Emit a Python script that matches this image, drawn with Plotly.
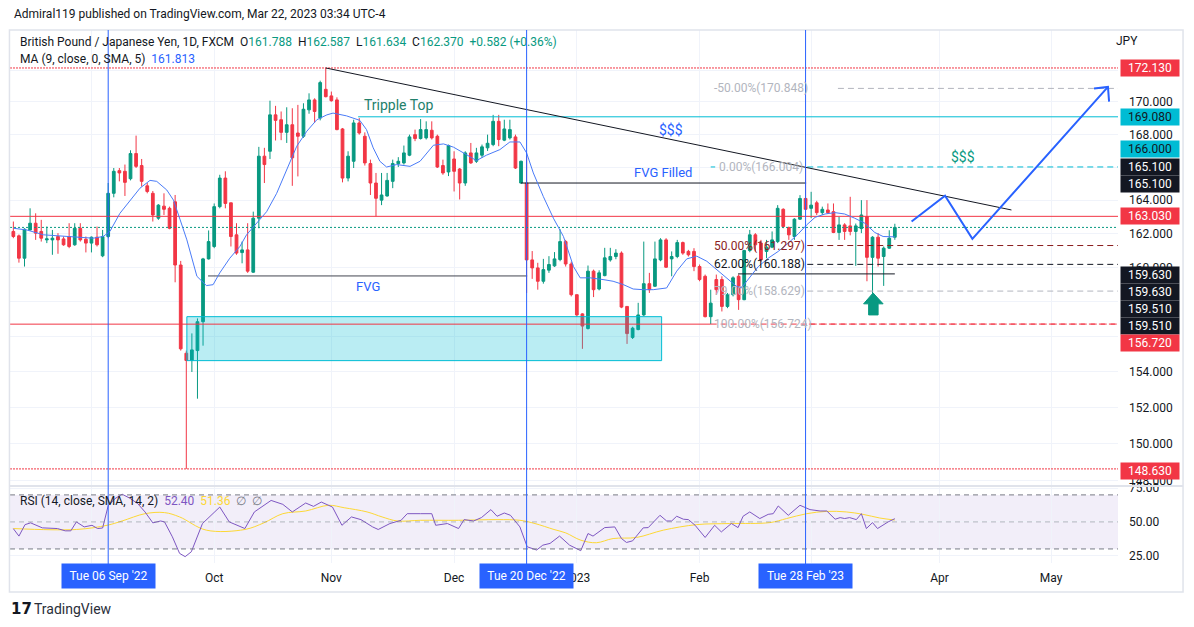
import numpy as np
import pandas as pd
import plotly.graph_objects as go

# GBP/JPY daily bars, 12 Aug 2022 -> 22 Mar 2023
opens = [
    162.13, 161.87, 160.55, 162.22, 162.62, 162.13, 161.63, 161.63, 161.83, 161.69,
    161.83, 161.34, 162.32, 161.67, 161.44, 161.79, 160.69, 161.83, 164.41, 165.78,
    165.74, 165.29, 166.82, 166.09, 164.86, 164.41, 162.92, 163.64, 163.51, 163.90,
    160.15, 155.06, 154.65, 155.21, 156.86, 160.51, 161.24, 163.61, 165.33, 163.84,
    161.93, 160.88, 161.04, 159.73, 162.92, 166.66, 166.96, 169.20, 168.90, 168.12,
    168.59, 168.08, 167.88, 169.51, 170.13, 169.00, 170.79, 170.38, 170.13, 168.33,
    165.33, 166.35, 168.70, 167.88, 166.21, 165.03, 164.00, 164.25, 165.13, 166.20,
    166.25, 166.72, 167.98, 167.74, 167.78, 168.25, 167.88, 166.09, 165.70, 166.49,
    165.88, 165.03, 166.86, 166.35, 166.72, 167.17, 167.37, 168.80, 167.64, 167.78,
    167.84, 165.03, 165.03, 160.45, 159.98, 159.20, 159.85, 160.10, 160.47, 161.53,
    160.21, 158.42, 157.31, 156.47, 159.79, 158.75, 159.53, 160.45, 160.65, 160.85,
    157.74, 155.96, 156.41, 157.25, 159.06, 158.91, 160.45, 161.63, 160.51, 160.65,
    161.47, 160.95, 160.95, 160.06, 159.49, 157.15, 159.30, 159.30, 157.74, 158.42,
    159.49, 158.13, 161.00, 161.93, 161.44, 160.95, 161.20, 161.53, 163.45, 162.36,
    161.83, 162.86, 164.10, 163.51, 163.84, 163.25, 163.41, 163.31, 162.07, 162.52,
    162.46, 162.13, 162.30, 163.01, 160.60, 161.79, 160.65, 161.14, 161.788,
]
highs = [
    162.72, 161.95, 162.32, 163.51, 163.21, 162.82, 162.42, 162.22, 162.03, 161.83,
    162.62, 162.62, 162.62, 161.83, 161.83, 162.42, 162.22, 165.03, 165.94, 165.94,
    166.15, 167.02, 167.92, 166.49, 165.03, 164.55, 163.76, 164.41, 163.61, 164.31,
    160.39, 155.21, 156.19, 157.05, 160.57, 162.19, 163.80, 165.53, 165.74, 163.84,
    162.62, 161.53, 162.62, 163.31, 167.23, 167.17, 170.08, 169.76, 169.41, 169.67,
    169.61, 169.82, 169.92, 170.54, 170.23, 171.33, 172.13, 170.65, 170.29, 168.39,
    166.96, 168.90, 169.00, 168.12, 166.45, 165.64, 165.64, 165.64, 166.45, 166.60,
    167.31, 167.98, 168.29, 168.94, 168.80, 168.80, 167.98, 166.45, 167.37, 166.96,
    165.94, 166.96, 167.47, 167.17, 167.37, 167.98, 169.20, 169.20, 168.90, 168.90,
    167.98, 166.39, 166.66, 160.97, 160.28, 160.51, 160.67, 160.91, 162.26, 161.63,
    160.35, 158.42, 157.35, 160.12, 159.88, 159.84, 161.16, 161.16, 161.08, 160.95,
    157.74, 156.57, 157.95, 161.53, 159.69, 161.53, 161.73, 161.73, 160.95, 161.63,
    161.53, 161.04, 161.14, 160.18, 159.59, 158.71, 159.59, 159.49, 158.52, 159.49,
    159.59, 161.04, 162.22, 162.03, 161.63, 161.63, 162.13, 163.70, 163.51, 162.42,
    162.92, 164.30, 166.00, 164.50, 163.96, 163.61, 163.80, 163.80, 163.00, 162.62,
    164.20, 162.60, 164.00, 164.00, 161.85, 162.03, 161.24, 162.20, 162.587,
]
lows = [
    161.73, 160.29, 160.06, 162.18, 161.63, 161.53, 161.44, 160.75, 160.81, 161.28,
    161.14, 161.28, 161.53, 160.89, 160.89, 161.24, 160.61, 161.73, 164.17, 165.13,
    164.25, 165.19, 165.94, 164.82, 164.41, 162.72, 162.82, 163.11, 162.26, 159.14,
    155.21, 148.63, 154.00, 152.50, 155.49, 160.47, 161.14, 163.51, 163.51, 161.24,
    160.75, 160.25, 159.69, 159.69, 162.32, 165.03, 166.49, 167.62, 167.64, 167.47,
    164.86, 165.43, 167.78, 169.27, 168.70, 168.86, 170.29, 170.02, 168.25, 165.07,
    165.13, 165.94, 167.98, 166.09, 164.31, 163.03, 163.70, 164.21, 164.72, 166.00,
    166.15, 166.66, 167.58, 167.68, 167.68, 167.68, 165.94, 165.53, 165.45, 164.52,
    164.04, 164.86, 166.19, 166.25, 166.56, 166.98, 167.27, 167.27, 167.58, 167.68,
    165.88, 164.99, 158.52, 159.34, 158.71, 159.06, 159.69, 160.04, 160.37, 160.06,
    158.32, 157.15, 155.31, 156.41, 158.28, 158.67, 159.49, 160.35, 160.49, 157.64,
    155.59, 155.87, 156.37, 157.19, 158.52, 158.87, 160.37, 159.98, 159.49, 160.55,
    160.75, 160.65, 159.79, 159.20, 157.11, 156.72, 158.42, 157.45, 157.64, 158.32,
    157.54, 158.10, 160.90, 160.94, 160.35, 160.55, 161.14, 161.44, 162.32, 161.63,
    161.63, 162.82, 163.41, 162.92, 163.11, 163.11, 163.17, 162.03, 161.63, 161.63,
    161.90, 160.10, 162.03, 159.20, 158.50, 160.06, 158.93, 161.10, 161.634,
]
closes = [
    161.83, 160.55, 162.26, 162.62, 162.03, 161.73, 161.69, 161.73, 161.63, 161.34,
    161.24, 162.32, 161.63, 161.44, 161.79, 161.34, 161.83, 164.41, 165.74, 165.64,
    165.07, 166.82, 166.04, 165.13, 164.52, 163.11, 163.70, 163.45, 162.32, 160.15,
    155.31, 154.65, 155.25, 156.86, 160.51, 161.53, 163.61, 165.33, 163.80, 161.83,
    160.85, 161.04, 159.79, 162.92, 166.66, 166.15, 169.20, 168.86, 168.12, 168.59,
    166.56, 167.88, 169.55, 170.13, 169.41, 171.21, 170.33, 170.08, 168.29, 165.33,
    166.66, 168.70, 168.08, 166.25, 165.03, 164.11, 164.31, 165.19, 166.21, 166.35,
    166.86, 167.84, 167.74, 168.29, 168.29, 167.78, 166.00, 165.64, 167.31, 165.74,
    165.03, 166.86, 166.25, 166.86, 167.23, 167.45, 168.80, 167.68, 168.33, 168.29,
    165.94, 166.35, 160.45, 159.98, 159.20, 159.88, 160.18, 160.51, 161.53, 160.21,
    158.42, 157.25, 156.61, 159.79, 158.71, 159.69, 160.57, 160.65, 160.85, 157.70,
    156.18, 156.49, 157.25, 159.06, 158.71, 160.51, 161.63, 160.02, 160.65, 161.47,
    160.85, 160.75, 160.06, 159.30, 157.15, 157.93, 158.71, 157.74, 158.42, 159.40,
    158.13, 161.00, 161.93, 161.34, 160.45, 161.20, 161.63, 163.51, 162.42, 161.93,
    162.86, 164.10, 163.45, 163.70, 163.25, 163.45, 163.25, 162.07, 162.52, 162.13,
    162.13, 162.46, 163.11, 160.60, 161.79, 160.55, 161.14, 161.73, 162.370,
]

# MA(9) line, read at bar positions
ma_idx = [0, 2.4, 5.4, 9.6, 14.3, 16.1, 17.3, 19.1, 20.9, 22.7, 24.5, 25.7, 27.5, 28.7, 29.9,
          31.1, 32.9, 34.6, 35.8, 37.0, 38.8, 40.6, 41.8, 43.6, 45.4, 47.2, 49.0, 50.8, 52.6,
          54.4, 56.2, 57.3, 59.7, 62.1, 63.3, 64.5, 65.7, 66.9, 68.7, 71.1, 72.9, 75.3, 77.1,
          78.9, 81.2, 83.0, 84.8, 87.2, 89.0, 90.8, 92.0, 93.2, 95.0, 96.8, 98.6, 100.4, 101.6,
          103.4, 105.7, 107.5, 109.3, 111.1, 112.9, 114.7, 117.1, 118.9, 120.7, 122.5, 124.3,
          126.1, 127.8, 129.6, 130.5, 131.7, 133.5, 135.3, 137.1, 138.9, 140.7, 142.2, 143.7,
          145.5, 147.3, 149.0, 150.8, 152.6, 154.4, 155.9, 157.4, 158.0]
ma_val = [162.32, 162.22, 161.93, 161.83, 161.73, 161.83, 162.13, 163.21, 164.0, 164.72, 165.19,
          165.13, 164.61, 164.0, 162.82, 161.63, 159.49, 158.95, 159.0, 159.69, 160.55, 161.24,
          161.93, 162.62, 163.31, 164.41, 165.84, 167.27, 168.19, 168.90, 169.20, 169.31, 169.14,
          168.86, 168.29, 167.17, 166.35, 166.0, 166.15, 166.04, 166.35, 167.33, 167.41, 167.21,
          166.76, 166.39, 166.72, 167.06, 167.53, 167.53, 166.86, 165.64, 164.21, 162.92, 161.83,
          160.06, 159.40, 159.40, 159.30, 159.20, 159.01, 158.75, 158.71, 158.71, 158.81, 159.79,
          160.51, 160.67, 160.37, 159.88, 159.40, 158.91, 158.81, 159.3, 160.05, 160.55, 160.95,
          161.44, 161.99, 162.52, 162.97, 163.17, 163.25, 163.17, 162.92, 162.62, 162.07, 161.83,
          161.79, 161.81]

rsi_idx = [0, 1.0, 2.1, 3.1, 5.2, 7.9, 9.3, 10.3, 11.3, 12.7, 14.1, 15.1, 16.0, 17.0, 18.2, 19.5,
           20.9, 22.3, 23.6, 25.0, 26.4, 27.1, 28.5, 29.8, 30.8, 31.9, 33.9, 37.0, 38.7, 41.5,
           43.2, 44.9, 46.2, 48.3, 50.0, 52.4, 53.8, 55.2, 57.2, 58.9, 60.6, 62.3, 64.4, 65.4,
           67.5, 69.5, 70.6, 73.0, 75.0, 75.7, 77.8, 79.8, 80.8, 82.5, 83.9, 85.6, 86.7, 88.0,
           89.1, 90.8, 92.1, 93.8, 94.9, 96.2, 97.9, 99.7, 101.7, 103.0, 103.9, 106.0, 107.8,
           109.0, 109.9, 111.0, 112.9, 113.8, 115.9, 117.1, 118.0, 118.9, 120.1, 121.0, 122.2,
           124.0, 125.7, 126.9, 128.7, 129.9, 130.8, 132.0, 133.8, 135.3, 136.2, 137.1, 138.9,
           141.0, 142.8, 144.6, 145.8, 147.3, 148.2, 149.0, 149.9, 151.1, 152.0, 152.9, 154.0,
           154.9, 156.8, 158.0]
rsi_val = [45.0, 39.5, 48.0, 49.3, 45.6, 45.1, 43.4, 43.4, 50.0, 46.3, 47.5, 45.1, 45.5, 62.0,
           67.2, 70.5, 67.5, 63.5, 57.4, 49.3, 50.7, 50.0, 39.0, 26.7, 24.3, 27.9, 48.8, 61.0,
           50.0, 45.1, 57.4, 62.3, 65.9, 63.0, 57.4, 64.0, 61.5, 64.7, 61.0, 47.5, 53.7, 51.7,
           46.3, 44.4, 48.8, 51.2, 56.1, 56.1, 56.1, 47.5, 48.8, 45.1, 51.7, 50.7, 53.2, 59.1,
           54.2, 56.6, 54.9, 46.3, 31.6, 29.2, 32.8, 34.1, 39.5, 32.8, 28.7, 41.4, 39.5, 45.8,
           46.3, 37.7, 34.8, 36.0, 45.6, 45.8, 54.9, 50.7, 50.7, 54.2, 52.0, 51.7, 47.5, 38.5,
           47.5, 42.6, 48.8, 45.8, 54.2, 57.4, 52.5, 55.6, 56.1, 61.8, 54.9, 62.3, 59.1, 58.1,
           58.1, 52.0, 53.2, 52.5, 53.2, 51.7, 56.1, 45.1, 49.5, 45.1, 50.0, 52.4]
rsi_ma_idx = [0, 11.3, 16.8, 19.5, 23.6, 27.1, 29.8, 34.6, 41.5, 44.9, 48.3, 52.4, 56.5, 59.3,
              63.4, 66.1, 68.8, 73.0, 79.8, 86.7, 90.8, 93.5, 96.9, 99.0, 101.7, 104.5, 107.5,
              111.7, 116.5, 122.5, 128.4, 135.6, 138.6, 142.2, 145.8, 149.3, 152.3, 155.3, 158.0]
rsi_ma_val = [45.1, 44.4, 47.5, 50.7, 56.1, 56.9, 53.7, 43.9, 44.4, 49.3, 56.1, 58.1, 62.3, 60.5,
              57.4, 53.7, 50.7, 51.2, 51.2, 51.7, 51.2, 48.8, 44.4, 41.9, 36.5, 34.6, 37.7, 38.5,
              43.9, 48.0, 48.8, 49.5, 52.5, 56.1, 57.8, 57.4, 55.6, 52.9, 51.4]

# fib retracement levels
fib_pct = ["-50.00%", "0.00%", "50.00%", "62.00%", "79.00%", "100.00%"]
fib_lvl = [170.848, 166.004, 161.297, 160.188, 158.629, 156.724]

GREEN = "#089981"
RED = "#f23645"
BLUE = "#2962ff"
CYAN = "#00bcd4"
INK = "#131722"
GRID = "#f0f3fa"
FONT = "Roboto"

dates = pd.bdate_range("2022-08-12", periods=200)
bars = np.arange(len(closes))
XMIN, XMAX = -0.6, 198.0


def L(p):
    return float(np.log10(p))


def bar_of(day):
    return int(dates.get_loc(pd.Timestamp(day)))


# month ticks on the time scale (Sep and Mar sit under the date badges)
tick_vals, tick_text = [], []
for k in range(1, len(dates)):
    if dates[k].month != dates[k - 1].month:
        tick_vals.append(k)
        m = dates[k].month
        if m in (9, 3):
            tick_text.append("")
        else:
            tick_text.append("2023" if m == 1 else dates[k].strftime("%b"))

fig = go.Figure()


def hline(x0, x1, y, color, dash="solid", width=1):
    fig.add_trace(go.Scatter(x=[x0, x1], y=[y, y], mode="lines", hoverinfo="skip",
                             line=dict(color=color, width=width, dash=dash), showlegend=False))


# FVG zone box
fig.add_trace(go.Scatter(x=[31.1, 116.2, 116.2, 31.1, 31.1],
                         y=[157.15, 157.15, 154.64, 154.64, 157.15],
                         mode="lines", fill="toself", fillcolor="rgba(0,188,212,0.27)",
                         line=dict(color=CYAN, width=1), hoverinfo="skip", showlegend=False))

# horizontal levels
hline(XMIN, XMAX, 172.13, RED, "2px,1px")
hline(61.8, XMAX, 169.08, CYAN)
hline(XMIN, XMAX, 163.03, RED)
hline(XMIN, XMAX, 162.37, GREEN, "2px,2px")
hline(XMIN, 125, 156.72, RED)
hline(XMIN, XMAX, 148.63, RED, "2px,1px")
hline(91.0, 142.1, 165.03, INK)
hline(34.9, 92.1, 159.51, "#434651")
hline(129.9, 158.0, 159.63, INK)

# fib lines
fib_col = ["#b2b5be", CYAN, "#8b1e1e", INK, "#b2b5be", RED]
fib_txt = ["#b2b5be", "#b2b5be", "#8b1e1e", INK, "#b2b5be", "#b2b5be"]
fib_start = [147.8, 142.3, 142.3, 142.3, 142.3, 142.6]
for lvl, col, xs in zip(fib_lvl, fib_col, fib_start):
    hline(xs, XMAX, lvl, col, "6px,4px")
hline(125, XMAX, 156.724, RED, "6px,4px")
hline(125, 125.8, 166.004, CYAN)

# trend line from the top
fig.add_trace(go.Scatter(x=[56, 178.9], y=[172.13, 163.41], mode="lines", hoverinfo="skip",
                         line=dict(color=INK, width=1), showlegend=False))

# candles
fig.add_trace(go.Candlestick(
    x=bars, open=opens, high=highs, low=lows, close=closes,
    increasing=dict(line=dict(color=GREEN, width=1), fillcolor=GREEN),
    decreasing=dict(line=dict(color=RED, width=1), fillcolor=RED),
    whiskerwidth=0, hoverinfo="skip", showlegend=False))

# moving average
fig.add_trace(go.Scatter(x=ma_idx, y=ma_val, mode="lines", hoverinfo="skip",
                         line=dict(color="#4a7bf7", width=1), showlegend=False))

# projected path arrow
path_x = [161.0, 167.0, 171.9, 196.2, None, 193.7, 196.2, 196.4]
path_y = [162.72, 164.26, 161.69, 170.94, None, 170.84, 170.94, 170.02]
fig.add_trace(go.Scatter(x=path_x, y=path_y, mode="lines", hoverinfo="skip",
                         line=dict(color=BLUE, width=2), showlegend=False))

# green up arrow
fig.add_trace(go.Scatter(x=[154.1, 155.9, 155.0, 155.0, 153.3, 153.3, 152.4, 154.1],
                         y=[158.52, 157.89, 157.89, 157.25, 157.25, 157.89, 157.89, 158.52],
                         mode="lines", fill="toself", fillcolor=GREEN,
                         line=dict(color=GREEN, width=1), hoverinfo="skip", showlegend=False))

# RSI pane
fig.add_trace(go.Scatter(x=rsi_ma_idx, y=rsi_ma_val, yaxis="y2", mode="lines", hoverinfo="skip",
                         line=dict(color="#fdd835", width=1, shape="spline"), showlegend=False))
fig.add_trace(go.Scatter(x=rsi_idx, y=rsi_val, yaxis="y2", mode="lines", hoverinfo="skip",
                         line=dict(color="#7e57c2", width=1), showlegend=False))

shapes = [
    dict(type="rect", xref="paper", yref="y2", x0=0, x1=1, y0=30, y1=70,
         fillcolor="rgba(126,87,194,0.1)", line=dict(width=0), layer="below"),
    dict(type="line", xref="paper", yref="y2", x0=0, x1=1, y0=70, y1=70,
         line=dict(color="#787b86", width=1, dash="5px,4px")),
    dict(type="line", xref="paper", yref="y2", x0=0, x1=1, y0=50, y1=50,
         line=dict(color="rgba(120,123,134,0.5)", width=1, dash="5px,4px")),
    dict(type="line", xref="paper", yref="y2", x0=0, x1=1, y0=30, y1=30,
         line=dict(color="#787b86", width=1, dash="5px,4px")),
    # outer frame and pane separator
    dict(type="rect", xref="paper", yref="paper", x0=-0.0005, x1=1.0587, y0=-0.0544, y1=1.0,
         line=dict(color="#e0e3eb", width=1.5)),
    dict(type="line", xref="paper", yref="paper", x0=-0.0005, x1=1.0587, y0=0.1445, y1=0.1445,
         line=dict(color="#e0e3eb", width=2)),
]


def px(x):
    return (x - 10) / 1108


def py(y):
    return (563 - y) / 533


annotations = []
for day, label in [("2022-09-06", "Tue 06 Sep '22"), ("2022-12-20", "Tue 20 Dec '22"),
                   ("2023-02-28", "Tue 28 Feb '23")]:
    b = bar_of(day)
    shapes.append(dict(type="line", xref="x", yref="paper", x0=b, x1=b, y0=py(565), y1=1,
                       line=dict(color=BLUE, width=1)))
    annotations.append(dict(x=b, xref="x", y=py(576), yref="paper", yanchor="middle",
                            text=label, showarrow=False, bgcolor=BLUE, width=91, height=22,
                            font=dict(color="white", size=12)))

# price scale labels
price_labels = [("172.130", RED, 172.13, 0), ("169.080", CYAN, 169.08, 0),
                ("166.000", CYAN, 166.0, 18), ("165.100", INK, 165.1, 15),
                ("165.100", INK, 165.1, -2), ("163.030", RED, 163.03, 0),
                ("159.630", INK, 159.63, -1), ("159.630", INK, 159.63, -18),
                ("159.510", INK, 159.51, -33), ("159.510", INK, 159.51, -50),
                ("156.720", RED, 156.72, -19), ("148.630", RED, 148.63, -2)]
for txt, bg, p, sh in price_labels:
    fc = INK if bg == CYAN else "white"
    annotations.append(dict(x=1, xref="paper", xanchor="left", xshift=2, y=L(p), yref="y",
                            yanchor="middle", yshift=sh, text=txt, showarrow=False, bgcolor=bg,
                            width=56, height=14, borderpad=1, font=dict(color=fc, size=12)))

# fib texts
for pct, lvl, col in zip(fib_pct, fib_lvl, fib_txt):
    xs = 126.2 if pct == "0.00%" else 125.2
    annotations.append(dict(x=xs, xref="x", xanchor="left", y=L(lvl), yref="y", showarrow=False,
                            yanchor="middle", text=f"{pct}({lvl:.3f})",
                            font=dict(color=col, size=12)))

# chart notes
for txt, xi, p, col, sz in [("Tripple Top", 69.0, 169.82, "#22806b", 14),
                            ("$$$", 117.9, 168.29, BLUE, 14),
                            ("FVG Filled", 116.4, 165.66, BLUE, 13),
                            ("FVG", 63.6, 158.9, BLUE, 13),
                            ("$$$", 170.2, 166.6, GREEN, 14)]:
    annotations.append(dict(x=xi, xref="x", y=L(p), yref="y", yanchor="middle", text=txt,
                            showarrow=False, font=dict(color=col, size=sz)))

legend1 = ("British Pound / Japanese Yen, 1D, FXCM\u00a0\u00a0"
           f"O<span style='color:{GREEN}'>161.788</span>\u00a0\u00a0"
           f"H<span style='color:{GREEN}'>162.587</span>\u00a0\u00a0"
           f"L<span style='color:{GREEN}'>161.634</span>\u00a0\u00a0"
           f"C<span style='color:{GREEN}'>162.370</span>\u00a0\u00a0"
           f"<span style='color:{GREEN}'>+0.582 (+0.36%)</span>")
legend2 = f"MA (9, close, 0, SMA, 5)\u00a0\u00a0<span style='color:{BLUE}'>161.813</span>"
legend3 = ("RSI (14, close, SMA, 14, 2)\u00a0\u00a0<span style='color:#7e57c2'>52.40</span>"
           "\u00a0\u00a0<span style='color:#fdd835'>51.36</span>"
           "\u00a0\u00a0<span style='color:#787b86'>\u2205\u00a0\u00a0\u2205</span>")
for txt, x, y, sz in [("Admiral119 published on TradingView.com, Mar 22, 2023 03:34 UTC-4", 12, 14, 12),
                      (legend1, 18, 42, 12), (legend2, 18, 59, 12), (legend3, 18, 501, 12)]:
    annotations.append(dict(x=px(x), xref="paper", xanchor="left", y=py(y), yref="paper",
                            yanchor="middle", text=txt, showarrow=False,
                            font=dict(color=INK, size=sz)))
annotations.append(dict(x=px(1140), xref="paper", y=py(41), yref="paper", yanchor="middle",
                        text="JPY", showarrow=False, font=dict(color=INK, size=12)))
annotations.append(dict(x=px(9), xref="paper", xanchor="left", y=py(609), yref="paper",
                        yanchor="middle", text="<b>17</b>", showarrow=False,
                        font=dict(color=INK, size=15, family="DejaVu Sans")))
annotations.append(dict(x=px(32), xref="paper", xanchor="left", y=py(609), yref="paper",
                        yanchor="middle", text="TradingView", showarrow=False,
                        font=dict(color="#2a2e39", size=14)))

price_ticks = list(range(148, 174, 2))
hidden = {172, 166, 158, 156}  # covered by the level labels on the price scale
price_text = ["" if v in hidden else f"{v:.3f}" for v in price_ticks]

fig.update_layout(
    width=1194, height=627,
    margin=dict(l=10, r=76, t=30, b=64),
    paper_bgcolor="white", plot_bgcolor="white",
    font=dict(family=FONT, size=12, color=INK),
    showlegend=False, hovermode=False,
    xaxis=dict(domain=[0, 1], range=[XMIN, XMAX], anchor="y2", tickvals=tick_vals,
               ticktext=tick_text, showgrid=True, gridcolor=GRID, zeroline=False,
               showline=False, ticks="", ticklabelstandoff=6, tickfont=dict(size=12, color=INK),
               rangeslider=dict(visible=False)),
    yaxis=dict(domain=[0.1454, 1], type="log", range=[L(147.73), L(174.54)], side="right",
               anchor="x", tickvals=price_ticks, ticktext=price_text,
               showgrid=True, gridcolor=GRID, zeroline=False, ticks="",
               ticklabelstandoff=10, tickfont=dict(size=12, color=INK)),
    yaxis2=dict(domain=[0, 0.1435], range=[19.6, 76.2], side="right", anchor="x",
                tickvals=[25, 50, 75], ticktext=["25.00", "50.00", "75.00"],
                showgrid=True, gridcolor=GRID, zeroline=False, ticks="",
                ticklabelstandoff=10, tickfont=dict(size=12, color=INK)),
    shapes=shapes,
    annotations=annotations,
)

fig.write_html("out.html", config={"displayModeBar": False},
               post_script="document.body.style.margin='0';")
